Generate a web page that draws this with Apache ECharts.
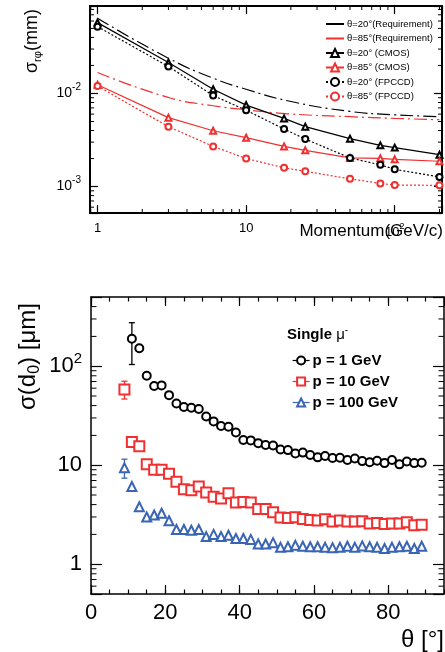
<!DOCTYPE html>
<html>
<head>
<meta charset="utf-8">
<script src="https://cdn.jsdelivr.net/npm/echarts@6/dist/echarts.min.js"></script>
<style>
html, body { margin: 0; padding: 0; background: #fff; }
#main { width: 445px; height: 652px; }
</style>
</head>
<body>
<div id="main"></div>
<script>
// top panel: sigma_rphi vs momentum
var momentum = [1, 3, 6, 10, 18, 25, 50, 80, 100, 200];
var cmos20 = [0.0577, 0.0215, 0.0111, 0.0075, 0.0054, 0.0044, 0.00327, 0.00277, 0.00262, 0.0022];
var cmos85 = [0.0124, 0.0055, 0.00398, 0.00335, 0.0027, 0.00245, 0.00203, 0.00201, 0.00196, 0.00187];
var fpccd20 = [0.0522, 0.0195, 0.0095, 0.0066, 0.00415, 0.00324, 0.00203, 0.00171, 0.00153, 0.00127];
var fpccd85 = [0.012, 0.0044, 0.0027, 0.002, 0.00159, 0.00146, 0.00121, 0.00108, 0.00104, 0.00103];
var reqMomentum = [1, 3, 6, 10, 19, 50, 100, 200];
var req20 = [0.0643, 0.0239, 0.0146, 0.0111, 0.00835, 0.00641, 0.0059, 0.00563];
var req85 = [0.0168, 0.00906, 0.00738, 0.00668, 0.00605, 0.00563, 0.0054, 0.00522];

// bottom panel: sigma(d0) vs theta
var theta = [9, 11, 13, 15, 17, 19, 21, 23, 25, 27, 29, 31, 33, 35, 37, 39, 41, 43, 45, 47, 49,
    51, 53, 55, 57, 59, 61, 63, 65, 67, 69, 71, 73, 75, 77, 79, 81, 83, 85, 87, 89];
var p1 = [null, 189, 152, 80, 63, 64, 51, 42, 38.7, 38, 37, 31, 27.7, 24.9, 24.5, 21.4, 18, 17.8, 16.7, 16, 15.8,
    14.4, 14.2, 13.1, 13.4, 12.7, 12, 12.4, 11.8, 11.9, 11.3, 11.7, 11, 10.7, 11.1, 10.5, 11.3, 10.2, 10.9, 10.5, 10.6];
var p10 = [58, 17.2, 15.5, 10.2, 9.0, 9.0, 8.2, 6.8, 5.7, 5.6, 6.1, 5.3, 4.8, 4.6, 5.2, 4.2, 4.25, 4.2, 3.6, 3.6, 3.35,
    2.97, 2.93, 2.98, 2.86, 2.8, 2.77, 2.84, 2.7, 2.77, 2.7, 2.7, 2.72, 2.58, 2.6, 2.55, 2.58, 2.58, 2.65, 2.47, 2.5];
var p100 = [9.4, 6.1, 3.8, 3.0, 3.14, 3.27, 2.75, 2.24, 2.24, 2.2, 2.24, 1.9, 2.0, 1.9, 1.96, 1.82, 1.82, 1.78, 1.6, 1.6, 1.65,
    1.48, 1.5, 1.55, 1.52, 1.5, 1.5, 1.48, 1.47, 1.48, 1.52, 1.48, 1.53, 1.5, 1.48, 1.44, 1.48, 1.5, 1.52, 1.44, 1.52];
// error bars (theta, low, high)
var errP1 = [[11, 104, 275]];
var errP10 = [[9, 46.6, 70.5]];
var errP100 = [[9, 7.4, 11.5]];

var FONT = 'Liberation Sans, Arial, sans-serif';
var RED = '#f03030';
var BLUE = '#3a64b4';

function pairs(xs, ys) {
    var out = [];
    for (var i = 0; i < xs.length; i++) {
        out.push([xs[i], ys[i]]);
    }
    return out;
}

// minor ticks 2..9 x 10^k inside [min, max]
function minorValues(min, max) {
    var out = [];
    for (var e = -5; e <= 4; e++) {
        for (var m = 2; m <= 9; m++) {
            var v = m * Math.pow(10, e);
            if (v > min && v < max) out.push(v);
        }
    }
    return out;
}

function powLabel(v) {
    var e = Math.log(v) / Math.LN10;
    if (Math.abs(e - Math.round(e)) > 1e-6) return '';
    e = Math.round(e);
    if (e === 0) return '1';
    if (e === 1) return '10';
    return '{b|10}{s|' + e + '}';
}

function logAxis(grid, pos, min, max, labels, fs, major, lw) {
    return {
        type: 'log',
        gridIndex: grid,
        position: pos,
        min: min,
        max: max,
        axisLine: { show: true, onZero: false, lineStyle: { color: '#000', width: lw } },
        axisTick: { show: true, inside: true, length: major, lineStyle: { color: '#000', width: 1.2 } },
        splitLine: { show: false },
        axisLabel: {
            show: labels,
            margin: 9,
            color: '#000',
            fontFamily: FONT,
            fontSize: fs,
            formatter: powLabel,
            rich: {
                b: { fontSize: fs, fontFamily: FONT, color: '#000', lineHeight: fs + 8 },
                s: { fontSize: Math.round(fs * 0.68), fontFamily: FONT, color: '#000', verticalAlign: 'top' }
            }
        }
    };
}

function linAxis(grid, pos, interval, labels, len, lineShow) {
    return {
        type: 'value',
        gridIndex: grid,
        position: pos,
        min: 0,
        max: 95,
        interval: interval,
        axisLine: { show: lineShow, onZero: false, lineStyle: { color: '#000', width: 1.5 } },
        axisTick: { show: true, inside: true, length: len, lineStyle: { color: '#000', width: 1.2 } },
        splitLine: { show: false },
        axisLabel: {
            show: labels, showMaxLabel: false, margin: 8,
            color: '#000', fontFamily: FONT, fontSize: 22
        }
    };
}

function renderErr(params, api) {
    var x = api.value(0);
    var a = api.coord([x, api.value(2)]);
    var b = api.coord([x, api.value(1)]);
    var c = api.visual('color');
    var st = { stroke: c, lineWidth: 1.3 };
    return {
        type: 'group',
        children: [
            { type: 'line', shape: { x1: a[0], y1: a[1], x2: b[0], y2: b[1] }, style: st },
            { type: 'line', shape: { x1: a[0] - 3, y1: a[1], x2: a[0] + 3, y2: a[1] }, style: st },
            { type: 'line', shape: { x1: b[0] - 3, y1: b[1], x2: b[0] + 3, y2: b[1] }, style: st }
        ]
    };
}

// draws log minor ticks on all four frame sides; item = [x, y, 0 for x tick / 1 for y tick]
function minorTickSeries(xi, yi, xMinor, yMinor, xRef, yRef, len) {
    var data = [];
    xMinor.forEach(function (v) { data.push([v, yRef, 0]); });
    yMinor.forEach(function (v) { data.push([xRef, v, 1]); });
    return {
        type: 'custom',
        xAxisIndex: xi,
        yAxisIndex: yi,
        silent: true,
        data: data,
        z: 1,
        renderItem: function (params, api) {
            var cs = params.coordSys;
            var p = api.coord([api.value(0), api.value(1)]);
            var st = { stroke: '#000', lineWidth: 1 };
            if (api.value(2) === 0) {
                var b = cs.y + cs.height;
                return {
                    type: 'group', children: [
                        { type: 'line', shape: { x1: p[0], y1: b, x2: p[0], y2: b - len }, style: st },
                        { type: 'line', shape: { x1: p[0], y1: cs.y, x2: p[0], y2: cs.y + len }, style: st }
                    ]
                };
            }
            var r = cs.x + cs.width;
            return {
                type: 'group', children: [
                    { type: 'line', shape: { x1: cs.x, y1: p[1], x2: cs.x + len, y2: p[1] }, style: st },
                    { type: 'line', shape: { x1: r, y1: p[1], x2: r - len, y2: p[1] }, style: st }
                ]
            };
        }
    };
}

function topLine(name, xs, ys, color, type, symbol, smooth) {
    return {
        name: name,
        type: 'line',
        xAxisIndex: 0,
        yAxisIndex: 0,
        data: pairs(xs, ys),
        smooth: smooth,
        symbol: symbol,
        symbolSize: 6,
        showSymbol: symbol !== 'none',
        lineStyle: { color: color, width: 1.2, type: type },
        itemStyle: { color: color, borderColor: color, borderWidth: 1 },
        z: 3
    };
}

function botLine(name, ys, color, symbol, size) {
    return {
        name: name,
        type: 'line',
        xAxisIndex: 2,
        yAxisIndex: 2,
        data: pairs(theta, ys),
        symbol: symbol,
        symbolSize: size,
        connectNulls: false,
        lineStyle: { color: color, width: 1.2, opacity: 0 },
        itemStyle: { color: color, borderColor: color, borderWidth: 1.5 },
        z: 3
    };
}

function errSeries(data, color) {
    return {
        type: 'custom',
        xAxisIndex: 2,
        yAxisIndex: 2,
        data: data,
        renderItem: renderErr,
        itemStyle: { color: color },
        z: 2
    };
}

var option = {
    animation: false,
    backgroundColor: '#fff',
    grid: [
        { left: 90, top: 6, width: 354, height: 207 },
        { left: 91, top: 297, width: 353, height: 297 }
    ],
    xAxis: [
        logAxis(0, 'bottom', 0.89, 208, true, 13, 8, 2),
        logAxis(0, 'top', 0.89, 208, false, 13, 8, 2),
        linAxis(1, 'bottom', 20, true, 9, true),
        linAxis(1, 'bottom', 5, false, 4.5, false),
        linAxis(1, 'top', 20, false, 9, true),
        linAxis(1, 'top', 5, false, 4.5, false)
    ],
    yAxis: [
        logAxis(0, 'left', 5.2e-4, 0.087, true, 14, 8, 2),
        logAxis(0, 'right', 5.2e-4, 0.087, false, 14, 8, 2),
        logAxis(1, 'left', 0.5, 500, true, 22, 11, 1.5),
        logAxis(1, 'right', 0.5, 500, false, 22, 11, 1.5)
    ],
    legend: [
        {
            orient: 'vertical',
            left: 320,
            top: 14,
            itemWidth: 18,
            itemHeight: 10,
            itemGap: 4.5,
            selectedMode: false,
            textStyle: { fontFamily: FONT, fontSize: 9.5, color: '#000', padding: [0, 0, 0, -2] },
            data: [
                { name: 'θ=20°(Requirement)', itemStyle: { opacity: 0 }, lineStyle: { type: 'solid' } },
                { name: 'θ=85°(Requirement)', itemStyle: { opacity: 0 }, lineStyle: { type: 'solid' } },
                'θ=20° (CMOS)', 'θ=85° (CMOS)', 'θ=20° (FPCCD)', 'θ=85° (FPCCD)'
            ]
        },
        {
            orient: 'vertical',
            left: 287,
            top: 348,
            itemWidth: 17,
            itemHeight: 10,
            itemGap: 6,
            selectedMode: false,
            lineStyle: { opacity: 1, width: 1.2 },
            textStyle: { fontFamily: FONT, fontSize: 15, fontWeight: 'bold', color: '#000', padding: [0, 0, 0, -2] },
            data: ['p = 1 GeV', 'p = 10 GeV', 'p = 100 GeV']
        }
    ],
    graphic: [
        {
            type: 'text', x: 32, y: 73, rotation: Math.PI / 2,
            style: {
                text: '{m|σ}{s|rφ}{m|(mm)}', align: 'left', verticalAlign: 'middle',
                rich: {
                    m: { fontFamily: FONT, fontSize: 18, color: '#000', lineHeight: 22 },
                    s: { fontFamily: FONT, fontSize: 11, color: '#000', verticalAlign: 'bottom' }
                }
            }
        },
        {
            type: 'text', x: 443, y: 231,
            style: { text: 'Momentum(GeV/c)', align: 'right', verticalAlign: 'middle', fontFamily: FONT, fontSize: 17, fill: '#000' }
        },
        {
            type: 'text', x: 28, y: 410, rotation: Math.PI / 2,
            style: {
                text: '{m|σ(d}{s|0}{m|) [μm]}', align: 'left', verticalAlign: 'middle',
                rich: {
                    m: { fontFamily: FONT, fontSize: 24, color: '#000', lineHeight: 30 },
                    s: { fontFamily: FONT, fontSize: 16, color: '#000', verticalAlign: 'bottom' }
                }
            }
        },
        {
            type: 'text', x: 444, y: 640,
            style: { text: 'θ [°]', align: 'right', verticalAlign: 'middle', fontFamily: FONT, fontSize: 24, fill: '#000' }
        },
        {
            type: 'text', x: 287, y: 335,
            style: {
                text: '{a|Single }{m|μ}{s|-}', align: 'left', verticalAlign: 'middle',
                rich: {
                    a: { fontFamily: FONT, fontSize: 15, fontWeight: 'bold', color: '#000', lineHeight: 20 },
                    m: { fontFamily: FONT, fontSize: 15, color: '#000', lineHeight: 20 },
                    s: { fontFamily: FONT, fontSize: 10, color: '#000', verticalAlign: 'top' }
                }
            }
        }
    ],
    series: [
        minorTickSeries(0, 0, minorValues(0.89, 208), minorValues(5.2e-4, 0.087), 1, 1e-3, 4),
        minorTickSeries(2, 2, [], minorValues(0.5, 500), 50, 1, 5.5),
        topLine('θ=20°(Requirement)', reqMomentum, req20, '#000', [13, 4, 2, 4], 'none', true),
        topLine('θ=85°(Requirement)', reqMomentum, req85, RED, [13, 4, 2, 4], 'none', true),
        topLine('θ=20° (CMOS)', momentum, cmos20, '#000', 'solid', 'emptyTriangle', false),
        topLine('θ=85° (CMOS)', momentum, cmos85, RED, 'solid', 'emptyTriangle', false),
        topLine('θ=20° (FPCCD)', momentum, fpccd20, '#000', [2, 2], 'emptyCircle', false),
        topLine('θ=85° (FPCCD)', momentum, fpccd85, RED, [2, 2], 'emptyCircle', false),
        errSeries(errP1, '#000'),
        errSeries(errP10, RED),
        errSeries(errP100, BLUE),
        botLine('p = 1 GeV', p1, '#000', 'emptyCircle', 8),
        botLine('p = 10 GeV', p10, RED, 'emptyRect', 10),
        botLine('p = 100 GeV', p100, BLUE, 'emptyTriangle', 9)
    ]
};

var myChart = echarts.init(document.getElementById('main'), null, { renderer: 'canvas' });
myChart.setOption(option);
</script>
</body>
</html>
